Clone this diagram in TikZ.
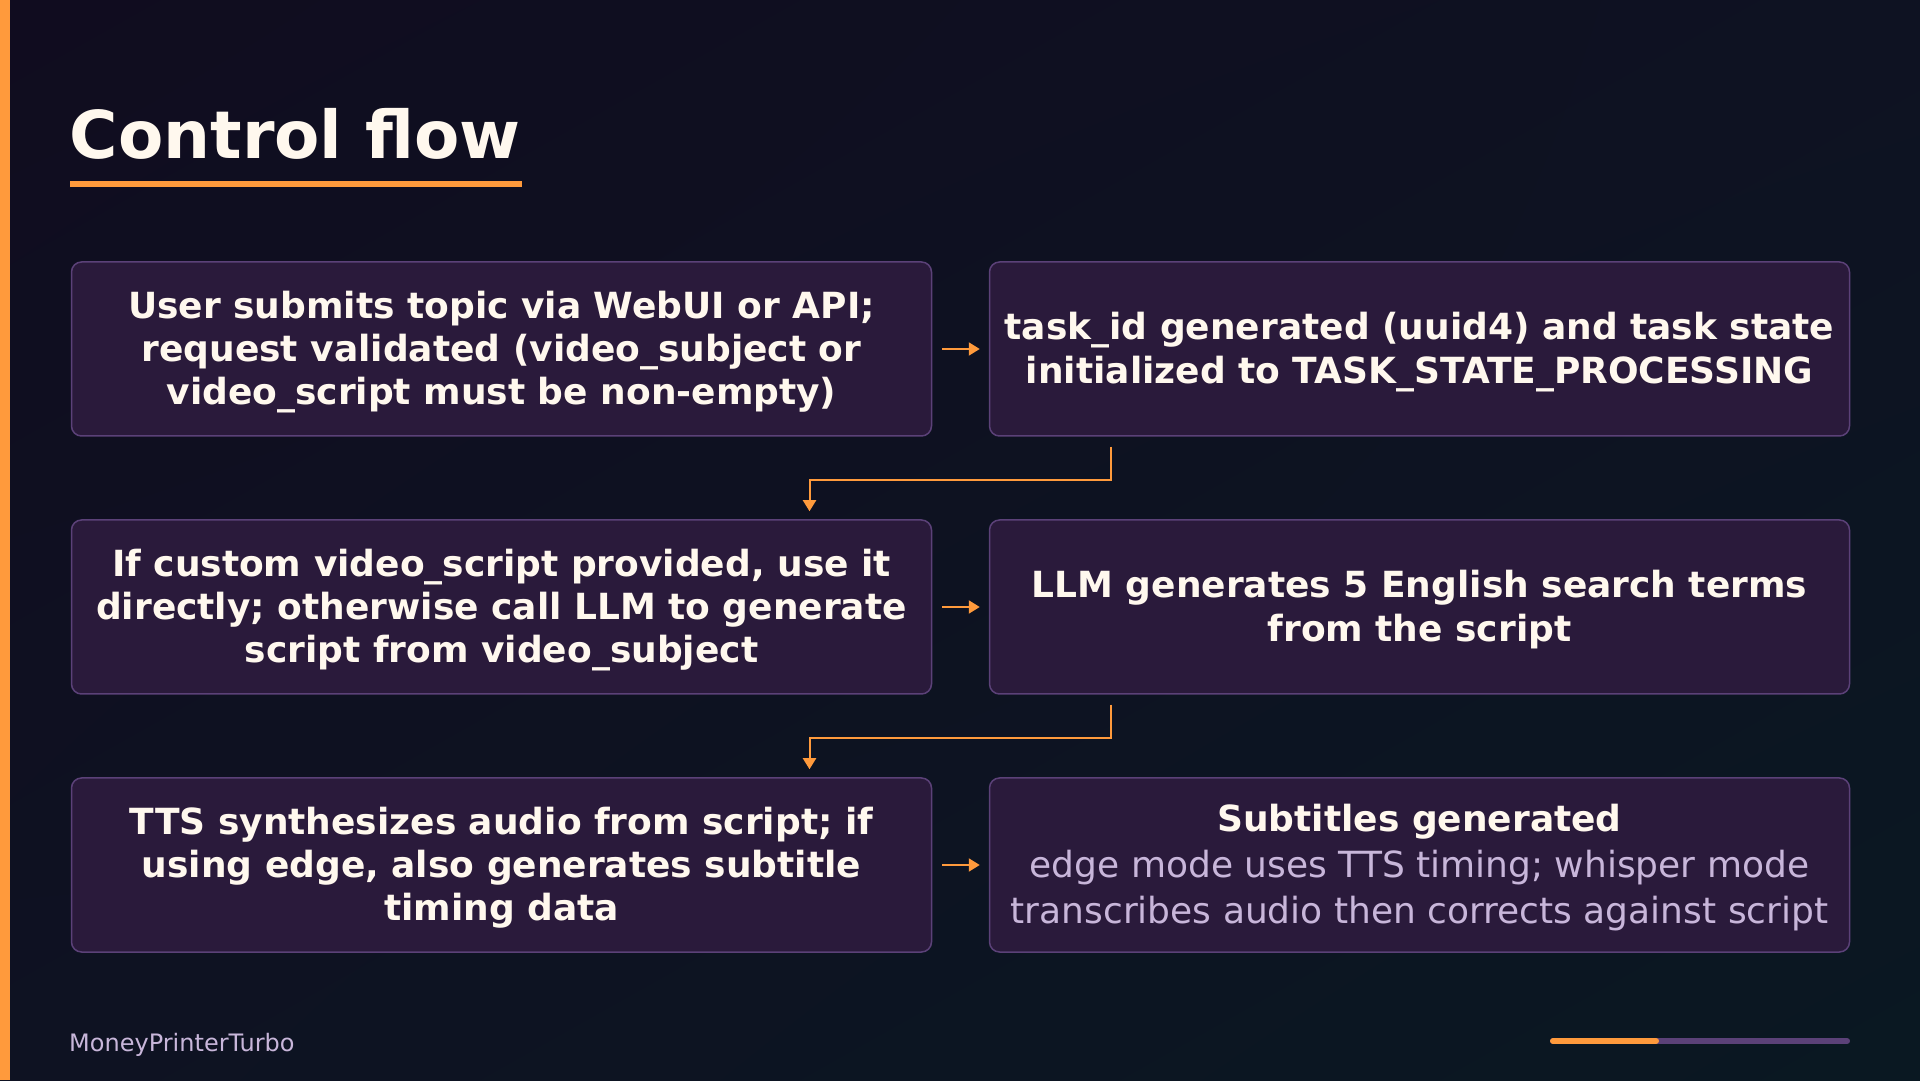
\documentclass[tikz,border=0pt]{standalone}
\usepackage{fontspec}
\setmainfont{DejaVu Sans}
\usetikzlibrary{arrows.meta,shadings}

\definecolor{bgtop}{HTML}{100C1F}
\definecolor{bgmid}{HTML}{0E1222}
\definecolor{bgbot}{HTML}{0A1822}
\definecolor{boxfill}{HTML}{2A1A3B}
\definecolor{boxline}{HTML}{5B4178}
\definecolor{accent}{HTML}{FF9A3C}
\definecolor{ink}{HTML}{FFF8EE}
\definecolor{muted}{HTML}{C8B6DA}
\newcommand{\dimline}[1]{{\mdseries\color{muted}#1}}

\begin{document}
\begin{tikzpicture}[x=1pt,y=1pt,>={Triangle[length=11pt,width=13pt]},node distance=918pt,
  box/.style={draw=boxline,line width=1.5pt,fill=boxfill,rounded corners=10pt,
    minimum width=860pt,minimum height=174pt,align=center,text=ink,
    text depth=9.15pt,font=\fontsize{36}{43.2}\selectfont\bfseries},
  twolines/.style={text height=77.25pt},
  threelines/.style={text height=120.45pt},
  flow/.style={->,draw=accent,line width=2pt}]
\useasboundingbox (0,0) rectangle (1920,1080);
\shade[upper left=bgtop,upper right=bgmid,lower left=bgmid,lower right=bgbot] (0,0) rectangle (1920,1080);
\fill[accent] (0,0) rectangle (10,1080);

% heading
\node[anchor=base west,inner sep=0,text=ink,font=\fontsize{66}{79}\selectfont\bfseries] (title) at (69.5,921.6) {Control flow};
\fill[accent] (70,893) rectangle (522,899);

% steps
\node[box,threelines] (b1) at (501.5,731) {User submits topic via WebUI or API;\\request validated (video\_subject or\\video\_script must be non-empty)};
\node[box,twolines] (b2) [right of=b1] {task\_id generated (uuid4) and task state\\initialized to TASK\_STATE\_PROCESSING};
\node[box,threelines] (b3) [below of=b1,node distance=258pt] {If custom video\_script provided, use it\\directly; otherwise call LLM to generate\\script from video\_subject};
\node[box,twolines] (b4) [right of=b3] {LLM generates 5 English search terms\\from the script};
\node[box,threelines] (b5) [below of=b3,node distance=258pt] {TTS synthesizes audio from script; if\\using edge, also generates subtitle\\timing data};
\node[box,text height=125.45pt] (b6) [right of=b5] {Subtitles generated\\[2.5pt]\dimline{edge mode uses TTS timing; whisper mode}\\[2.5pt]\dimline{transcribes audio then corrects against script}};

\draw[flow,shorten <=10pt,shorten >=9pt] (b1) -- (b2);
\draw[flow,shorten <=10pt,shorten >=9pt] (b3) -- (b4);
\draw[flow,shorten <=10pt,shorten >=9pt] (b5) -- (b6);
\draw[flow,shorten <=10pt,shorten >=8pt] ([xshift=-309pt]b2.south) -- ++(0,-43) -| ([xshift=308pt]b3.north);
\draw[flow,shorten <=10pt,shorten >=8pt] ([xshift=-309pt]b4.south) -- ++(0,-43) -| ([xshift=308pt]b5.north);

% footer
\node[anchor=base west,inner sep=0,text=muted,font=\fontsize{24}{28}\selectfont] (brand) at (69,29) {MoneyPrinterTurbo};
\draw[boxline,line width=6pt,line cap=round] (1553,39) -- (1847,39);
\draw[accent,line width=6pt,line cap=round] (1553,39) -- (1656,39);
\end{tikzpicture}
\end{document}
